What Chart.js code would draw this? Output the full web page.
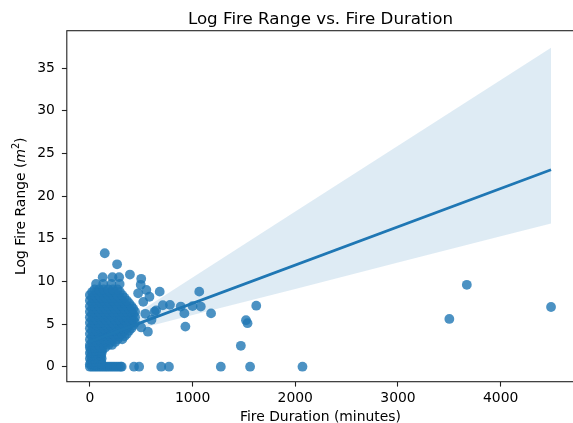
<!DOCTYPE html>
<html>
<head>
<meta charset="utf-8">
<script src="https://cdn.jsdelivr.net/npm/chart.js@4.4.1/dist/chart.umd.min.js"></script>
<style>
  html, body { margin: 0; padding: 0; overflow: hidden; background: #fff; }
  #wrap { width: 573px; height: 423px; overflow: hidden; }
</style>
</head>
<body>
<div id="wrap"><canvas id="chart" width="579" height="423"></canvas></div>
<script>
// Text
const chartTitle = 'Log Fire Range vs. Fire Duration';
const xTitle = 'Fire Duration (minutes)';
const yTitleParts = ['Log Fire Range (', 'm', '2', ')'];

// Tick labels
const xTicks = [0, 1000, 2000, 3000, 4000];
const yTicks = [0, 5, 10, 15, 20, 25, 30, 35];

// Dense core of fires: [log range, [durations in minutes]]
const coreRows = [
  [0,    [0,20,40,60,80,100,120,140,160,180,200,220,240,260,280,300,310]],
  [0.3,  [0,25,50,75,100,115]],
  [0.6,  [10,35,60,85,110]],
  [0.95, [0,25,50,75,100,115]],
  [1.25, [10,35,60,85,110]],
  [1.6,  [0,25,50,75,100,115]],
  [1.9,  [10,35,60,85,110,120]],
  [2.25, [0,25,50,75,100,115,150]],
  [2.55, [0,45,90,135,180,215]],
  [2.9,  [22,67,112,157,202,247]],
  [3.2,  [0,45,90,135,180,225,270,315]],
  [3.55, [22,67,112,157,202,247,292,337]],
  [3.85, [0,45,90,135,180,225,270,315,360]],
  [4.2,  [22,67,112,157,202,247,292,337,382]],
  [4.5,  [0,45,90,135,180,225,270,315,360,405]],
  [4.85, [22,67,112,157,202,247,292,337,382,422]],
  [5.15, [0,45,90,135,180,225,270,315,360,405,440]],
  [5.5,  [22,67,112,157,202,247,292,337,382,422]],
  [5.8,  [0,45,90,135,180,225,270,315,360,405,440]],
  [6.15, [22,67,112,157,202,247,292,337,382,422]],
  [6.45, [0,45,90,135,180,225,270,315,360,405,440]],
  [6.8,  [22,67,112,157,202,247,292,337,382,422]],
  [7.1,  [0,45,90,135,180,225,270,315,360,405]],
  [7.45, [22,67,112,157,202,247,292,337,382]],
  [7.75, [0,45,90,135,180,225,270,315,360]],
  [8.1,  [22,67,112,157,202,247,292,337]],
  [8.4,  [0,45,90,135,180,225,270,315]],
  [8.75, [22,67,112,157,202,247,292]],
  [9.05, [45,90,135,180,225,270]],
  [9.7,  [60,130,210,290]]
];

// Scattered fires: [duration in minutes, log range]
const outliers = [[125,10.5],[220,10.5],[285,10.5],[390,10.8],[145,13.3],[265,12.0],
  [430,0],[480,0],[695,0],[770,0],[1275,0],[1560,0],[2070,0],
  [500,10.3],[495,9.6],[550,9.0],[580,8.2],[470,8.6],[520,7.6],[540,6.2],[500,4.6],[565,4.1],
  [600,5.5],[630,6.45],[645,6.6],[680,8.8],[710,7.2],[780,7.25],[885,7.05],[920,6.25],[930,4.7],
  [1000,7.1],[1080,7.05],[1065,8.8],[1180,6.25],[1470,2.45],[1520,5.45],[1535,5.1],[1620,7.15],
  [3500,5.6],[3670,9.6],[4490,7.0]];

// Regression fit and its confidence band
const lineX = [0, 4490];
const lineY = [2.94, 23.1];
const bandX = [0, 100, 250, 500, 1000, 2000, 3000, 4000, 4490];
const bandHigh = [3.05, 3.5, 4.65, 6.6, 10.45, 18.2, 25.9, 33.6, 37.4];
const bandLow = [2.85, 3.3, 3.75, 4.5, 6.05, 9.1, 12.2, 15.3, 16.8];

const blue = '#1f77b4';
const font = 'DejaVu Sans';
const zipXY = (xs, ys) => xs.map((x, i) => ({ x: x, y: ys[i] }));

const firePoints = [];
coreRows.forEach(row => row[1].forEach(x => firePoints.push({ x: x, y: row[0] })));
outliers.forEach(p => firePoints.push({ x: p[0], y: p[1] }));

// frame, title and axis titles drawn like matplotlib
const frameAndText = {
    id: 'frameAndText',
    afterDraw(chart) {
        const ctx = chart.ctx;
        const a = chart.chartArea;
        ctx.save();
        ctx.strokeStyle = '#222';
        ctx.lineWidth = 1.1;
        ctx.strokeRect(a.left, a.top, a.right - a.left, a.bottom - a.top);

        ctx.fillStyle = '#000';
        ctx.textAlign = 'center';
        ctx.textBaseline = 'alphabetic';
        const cx = (a.left + a.right) / 2;
        ctx.font = `16.7px "${font}"`;
        ctx.fillText(chartTitle, cx, 23.9);
        ctx.font = `13.9px "${font}"`;
        ctx.fillText(xTitle, cx, 420.5);

        // y title: "Log Fire Range (m^2)" with italic m and superscript 2
        const fNorm = `13.9px "${font}"`;
        const fItal = `italic 13.9px "${font}"`;
        const fSup = `9.7px "${font}"`;
        ctx.font = fNorm; const w0 = ctx.measureText(yTitleParts[0]).width;
        ctx.font = fItal; const w1 = ctx.measureText(yTitleParts[1]).width;
        ctx.font = fSup; const w2 = ctx.measureText(yTitleParts[2]).width;
        ctx.font = fNorm; const w3 = ctx.measureText(yTitleParts[3]).width;
        const total = w0 + w1 + w2 + w3;
        ctx.translate(25.3, (a.top + a.bottom) / 2);
        ctx.rotate(-Math.PI / 2);
        ctx.textAlign = 'left';
        let x = -total / 2;
        ctx.font = fNorm; ctx.fillText(yTitleParts[0], x, 0); x += w0;
        ctx.font = fItal; ctx.fillText(yTitleParts[1], x, 0); x += w1;
        ctx.font = fSup; ctx.fillText(yTitleParts[2], x, -6); x += w2;
        ctx.font = fNorm; ctx.fillText(yTitleParts[3], x, 0);
        ctx.restore();
    }
};

const tickFont = { family: font, size: 13.9 };
const gridOpts = { display: true, drawOnChartArea: false, drawTicks: true, tickLength: 4.9,
    tickWidth: 1.1, color: '#222', tickColor: '#222' };

new Chart(document.getElementById('chart').getContext('2d'), {
    type: 'scatter',
    data: {
        datasets: [
            {
                type: 'line', label: 'fit', data: zipXY(lineX, lineY),
                borderColor: blue, borderWidth: 2.7, pointRadius: 0, fill: false, order: 1
            },
            {
                type: 'line', label: 'ci low', data: zipXY(bandX, bandLow),
                borderColor: 'rgba(0,0,0,0)', borderWidth: 1, pointRadius: 0, fill: false, order: 2
            },
            {
                type: 'line', label: 'ci high', data: zipXY(bandX, bandHigh),
                borderColor: 'rgba(0,0,0,0)', borderWidth: 1, pointRadius: 0,
                fill: 1, backgroundColor: 'rgba(31,119,180,0.15)', order: 2
            },
            {
                label: 'fires', data: firePoints,
                backgroundColor: 'rgba(31,119,180,0.8)', borderWidth: 0, pointRadius: 4.9, order: 3
            }
        ]
    },
    options: {
        responsive: false,
        devicePixelRatio: 1,
        animation: false,
        layout: { padding: { top: 30.7, left: 0, right: 1.8, bottom: 0 } },
        plugins: { legend: { display: false }, title: { display: false }, tooltip: { enabled: false } },
        scales: {
            x: {
                type: 'linear', min: -224.5, max: 4714.5,
                afterBuildTicks: s => { s.ticks = xTicks.map(v => ({ value: v })); },
                afterFit: s => { s.height = 41.3; },
                grid: gridOpts,
                border: { display: false },
                ticks: { font: tickFont, color: '#000', padding: 3, maxRotation: 0, autoSkip: false,
                    callback: v => String(v) }
            },
            y: {
                type: 'linear', min: -1.76, max: 39.39,
                afterBuildTicks: s => { s.ticks = yTicks.map(v => ({ value: v })); },
                afterFit: s => { s.width = 66.8; },
                grid: gridOpts,
                border: { display: false },
                ticks: { font: tickFont, color: '#000', padding: 7, autoSkip: false,
                    callback: v => String(v) }
            }
        }
    },
    plugins: [frameAndText]
});
</script>
</body>
</html>
